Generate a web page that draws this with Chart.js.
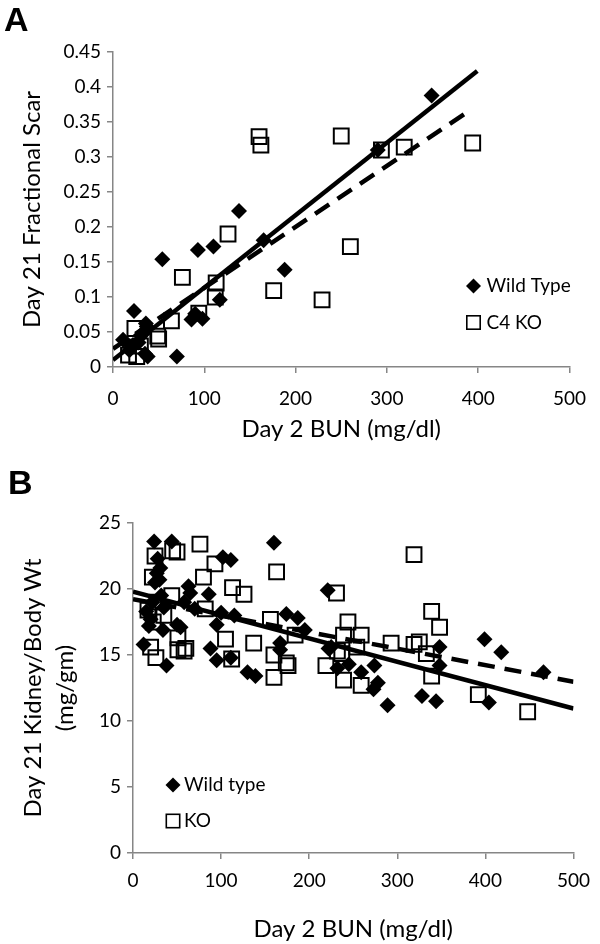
<!DOCTYPE html>
<html>
<head>
<meta charset="utf-8">
<script src="https://cdn.jsdelivr.net/npm/chart.js@4.4.1/dist/chart.umd.min.js"></script>
<style>
  html, body { margin: 0; padding: 0; background: #fff; }
  #wrap { position: relative; width: 600px; height: 944px; }
  #wrap canvas { position: absolute; left: 0; }
  #chartA { top: 0; }
  #chartB { top: 460px; }
  .panel { position: absolute; font: bold 34px "Liberation Sans", Arial, sans-serif; line-height: 1; }
</style>
</head>
<body>
<div id="wrap">
  <canvas id="chartA" width="600" height="460"></canvas>
  <canvas id="chartB" width="600" height="484"></canvas>
  <div class="panel" style="left:4px; top:2px;">A</div>
  <div class="panel" style="left:8px; top:465px;">B</div>
</div>
<script>
// Panel A: Day 2 BUN vs Day 21 fractional scar
const wildTypeA = [
  [11, 0.039], [18, 0.024], [20, 0.030], [23, 0.080], [28, 0.035], [30, 0.045],
  [33, 0.048], [35, 0.019], [36, 0.062], [37, 0.058], [38, 0.015], [54, 0.154],
  [70, 0.015], [86, 0.068], [90, 0.076], [93, 0.167], [98, 0.069], [110, 0.172],
  [117, 0.096], [138, 0.223], [165, 0.181], [188, 0.139], [290, 0.310], [349, 0.388]
];
const koA = [
  [17, 0.017], [24, 0.055], [26, 0.015], [30, 0.030], [49, 0.044], [50, 0.040],
  [64, 0.066], [76, 0.128], [94, 0.077], [112, 0.100], [113, 0.120], [126, 0.190],
  [160, 0.329], [162, 0.317], [176, 0.109], [229, 0.096], [250, 0.330], [260, 0.172],
  [294, 0.310], [319, 0.314], [394, 0.320]
];
const fitWildTypeA = [[0, 0.010], [399, 0.423]];
const fitKoA = [[0, 0.026], [388, 0.364]];
const xTicksA = [0, 100, 200, 300, 400, 500];
const yTicksA = [0, 0.05, 0.1, 0.15, 0.2, 0.25, 0.3, 0.35, 0.4, 0.45];
const yTickLabelsA = ['0', '0.05', '0.1', '0.15', '0.2', '0.25', '0.3', '0.35', '0.4', '0.45'];

// Panel B: Day 2 BUN vs Day 21 kidney/body weight
const wildTypeB = [
  [12, 15.8], [15, 18.3], [18, 17.2], [20, 17.7], [22, 19.0], [24, 23.6], [25, 20.5],
  [27, 21.2], [28, 22.3], [30, 20.7], [31, 21.6], [32, 19.5], [34, 16.9], [35, 18.6],
  [38, 14.2], [44, 23.6], [50, 17.3], [54, 17.1], [58, 19.0], [63, 20.2], [65, 19.7],
  [70, 18.5], [86, 19.6], [88, 15.5], [95, 14.6], [95, 17.3], [100, 18.2], [102, 22.4],
  [111, 22.2], [111, 14.8], [115, 18.0], [130, 13.7], [139, 13.4], [160, 23.5],
  [167, 15.9], [167, 15.4], [174, 18.1], [187, 17.8], [195, 16.9], [221, 19.9],
  [222, 15.5], [225, 15.6], [232, 14.0], [245, 14.3], [259, 13.7], [274, 14.2],
  [278, 12.9], [273, 12.4], [289, 11.2], [328, 11.9], [344, 11.5], [348, 15.6],
  [348, 14.2], [399, 16.2], [404, 11.4], [418, 15.2], [466, 13.7]
];
const koB = [
  [17, 18.4], [20, 15.6], [22, 20.9], [23, 17.5], [25, 22.5], [26, 14.8], [28, 19.0],
  [35, 18.0], [44, 19.5], [45, 22.9], [50, 22.8], [51, 16.3], [51, 15.4], [58, 15.3],
  [60, 15.5], [76, 23.4], [80, 20.9], [82, 18.5], [93, 21.9], [105, 16.2], [112, 14.7],
  [113, 20.1], [126, 19.6], [137, 15.9], [156, 17.7], [160, 15.0], [160, 13.3],
  [163, 21.3], [174, 14.4], [176, 14.2], [184, 16.5], [219, 14.2], [231, 19.7],
  [232, 15.3], [237, 15.1], [239, 16.5], [239, 13.1], [244, 17.5], [254, 15.6],
  [259, 16.5], [259, 12.7], [293, 15.9], [319, 22.6], [319, 15.8], [325, 16.0],
  [333, 15.1], [339, 18.3], [339, 13.4], [348, 17.1], [392, 12.0], [448, 10.7]
];
const fitWildTypeB = [[0, 19.8], [500, 10.95]];
const fitKoB = [[0, 19.23], [500, 12.98]];
const xTicksB = [0, 100, 200, 300, 400, 500];
const yTicksB = [0, 5, 10, 15, 20, 25];

const FONT = 'Lato';
const AXIS_GREY = '#868686';

function pts(list) {
  return list.map(p => ({ x: p[0], y: p[1] }));
}

function scatterSet(label, list, filled) {
  return filled ? {
    label: label, data: pts(list), order: 2,
    pointStyle: 'rectRot', pointRadius: 8, pointBackgroundColor: '#000',
    pointBorderColor: '#000', pointBorderWidth: 0
  } : {
    label: label, data: pts(list), order: 1,
    pointStyle: 'rect', pointRadius: 10.5, pointBackgroundColor: 'rgba(0,0,0,0)',
    pointBorderColor: '#000', pointBorderWidth: 2
  };
}

function fitSet(label, list, dashed) {
  return {
    label: label, data: pts(list), order: 0, showLine: true,
    borderColor: '#000', borderWidth: 4.5, borderDash: dashed ? [17, 10] : [],
    pointRadius: 0, fill: false
  };
}

// legend drawn inside the plot, like the original
const insideLegend = {
  id: 'insideLegend',
  afterDatasetsDraw(chart, args, opts) {
    const ctx = chart.ctx;
    ctx.save();
    ctx.font = opts.fontSize + 'px ' + FONT;
    ctx.textBaseline = 'middle';
    opts.items.forEach((idx, i) => {
      const ds = chart.data.datasets[idx];
      const x = opts.x, y = opts.y + i * opts.gap;
      ctx.fillStyle = '#000';
      ctx.strokeStyle = '#000';
      if (ds.pointStyle === 'rectRot') {
        ctx.beginPath();
        ctx.moveTo(x, y - 7.5);
        ctx.lineTo(x + 7.5, y);
        ctx.lineTo(x, y + 7.5);
        ctx.lineTo(x - 7.5, y);
        ctx.closePath();
        ctx.fill();
      } else {
        ctx.lineWidth = 1.6;
        ctx.strokeRect(x - 6.7, y - 6.7, 13.4, 13.4);
      }
      ctx.fillText(ds.label, x + opts.textGap, y);
    });
    ctx.restore();
  }
};

function makeChart(id, cfg) {
  return new Chart(document.getElementById(id), {
    type: 'scatter',
    plugins: [insideLegend],
    data: { datasets: cfg.datasets },
    options: {
      responsive: false,
      animation: false,
      layout: { padding: { top: cfg.padTop, right: cfg.padRight, left: 0, bottom: 0 } },
      plugins: {
        legend: { display: false },
        tooltip: { enabled: false },
        insideLegend: cfg.legend
      },
      scales: {
        x: {
          type: 'linear', min: 0, max: 500,
          afterBuildTicks: s => { s.ticks = cfg.xTicks.map(v => ({ value: v })); },
          afterFit: s => { s.height = cfg.xHeight; },
          border: { display: true, color: AXIS_GREY, width: 1.5 },
          grid: { drawOnChartArea: false, drawTicks: true, tickLength: 6, color: AXIS_GREY, lineWidth: 1.5 },
          ticks: { color: '#000', font: { family: FONT, size: 19 }, padding: cfg.xPad, maxRotation: 0 },
          title: {
            display: true, text: 'Day 2 BUN (mg/dl)', color: '#000',
            font: { family: FONT, size: 24, lineHeight: 1.2 },
            padding: { top: 0, bottom: cfg.xTitlePad }
          }
        },
        y: {
          type: 'linear', min: cfg.yTicks[0], max: cfg.yTicks[cfg.yTicks.length - 1],
          afterBuildTicks: s => { s.ticks = cfg.yTicks.map(v => ({ value: v })); },
          afterFit: s => { s.width = cfg.yWidth; },
          border: { display: true, color: AXIS_GREY, width: 1.5 },
          grid: { drawOnChartArea: false, drawTicks: true, tickLength: 6, color: AXIS_GREY, lineWidth: 1.5 },
          ticks: {
            color: '#000', font: { family: FONT, size: 19 }, padding: 6,
            callback: (v, i) => cfg.yLabels[i]
          },
          title: {
            display: true, text: cfg.yTitle, color: '#000',
            font: { family: FONT, size: 24, lineHeight: cfg.yTitleLH },
            padding: { top: cfg.yTitlePad, bottom: 0 }
          }
        }
      }
    }
  });
}

makeChart('chartA', {
  datasets: [
    scatterSet('Wild Type', wildTypeA, true),
    scatterSet('C4 KO', koA, false),
    fitSet('Wild Type fit', fitWildTypeA, false),
    fitSet('C4 KO fit', fitKoA, true)
  ],
  padTop: 52, padRight: 21, xHeight: 93, yWidth: 113,
  xTicks: xTicksA, yTicks: yTicksA, yLabels: yTickLabelsA,
  xPad: 14, xTitlePad: 16,
  yTitle: 'Day 21 Fractional Scar', yTitleLH: 1.2, yTitlePad: 18,
  legend: { items: [0, 1], x: 473.5, y: 286, gap: 36.5, textGap: 13, fontSize: 19 }
});

makeChart('chartB', {
  datasets: [
    scatterSet('Wild type', wildTypeB, true),
    scatterSet('KO', koB, false),
    fitSet('Wild type fit', fitWildTypeB, false),
    fitSet('KO fit', fitKoB, true)
  ],
  padTop: 63, padRight: 15, xHeight: 91, yWidth: 133,
  xTicks: xTicksB, yTicks: yTicksB, yLabels: yTicksB.map(String),
  xPad: 10, xTitlePad: 0,
  yTitle: ['Day 21 Kidney/Body Wt', '(mg/gm)'], yTitleLH: 1.35, yTitlePad: 17,
  legend: { items: [0, 1], x: 173, y: 785 - 460, gap: 36, textGap: 11, fontSize: 19 }
});
</script>
</body>
</html>
